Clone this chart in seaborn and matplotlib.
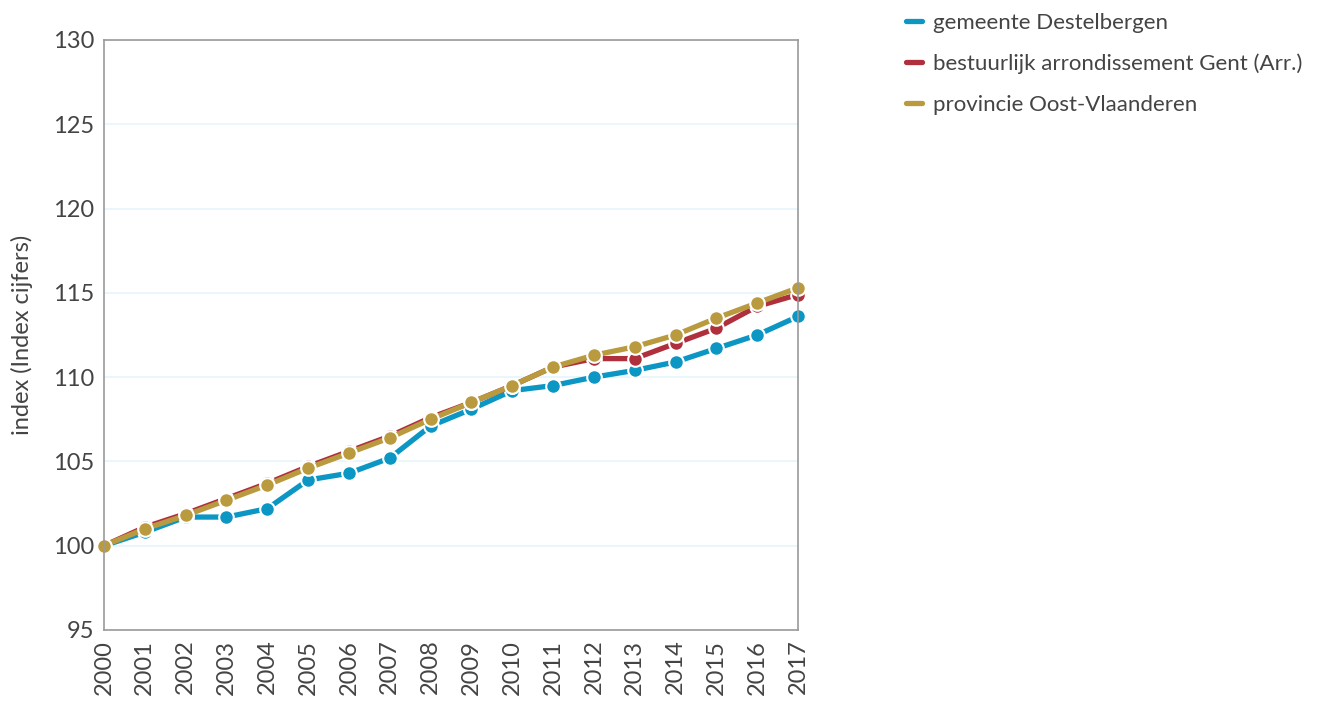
import pandas as pd
import matplotlib
matplotlib.use("Agg")
import matplotlib.pyplot as plt
import seaborn as sns

# data
years = list(range(2000, 2018))
destelbergen = [100.0, 100.8, 101.7, 101.7, 102.2, 103.9, 104.3, 105.2, 107.1, 108.1,
                109.2, 109.5, 110.0, 110.4, 110.9, 111.7, 112.5, 113.6]
arr_gent = [100.0, 101.1, 101.9, 102.8, 103.7, 104.7, 105.6, 106.5, 107.6, 108.5,
            109.5, 110.6, 111.1, 111.1, 112.0, 112.9, 114.2, 114.9]
oost_vl = [100.0, 101.0, 101.8, 102.7, 103.6, 104.6, 105.5, 106.4, 107.5, 108.5,
           109.5, 110.6, 111.3, 111.8, 112.5, 113.5, 114.4, 115.3]
series_names = ["gemeente Destelbergen",
                "bestuurlijk arrondissement Gent (Arr.)",
                "provincie Oost-Vlaanderen"]
colors = ["#0b96c4", "#b02f3d", "#b99a3e"]

df = pd.DataFrame({
    "jaar": years * 3,
    "waarde": destelbergen + arr_gent + oost_vl,
    "reeks": [series_names[0]] * 18 + [series_names[1]] * 18 + [series_names[2]] * 18,
})

sns.set_style("white")
plt.rcParams['font.family'] = ['Lato', 'DejaVu Sans']
text_col = "#444444"

fig = plt.figure(figsize=(13.29, 7.02), dpi=100)
ax = fig.add_axes([104 / 1329, 1 - 630 / 702, (798 - 104) / 1329, 590 / 702])

sns.lineplot(data=df, x="jaar", y="waarde", hue="reeks", hue_order=series_names,
             palette=colors, lw=3.8, marker="o", markersize=10.5,
             markeredgecolor="white", markeredgewidth=1.5, ax=ax, legend=False)

ax.set_xlim(2000, 2017)
ax.set_ylim(95, 130)
ax.set_yticks(range(95, 131, 5))
ax.set_xticks(years)
ax.set_xticklabels([str(y) for y in years], rotation=90)
ax.grid(axis="y", color="#e5f5fb", lw=1.2)
ax.grid(axis="x", visible=False)
for s in ax.spines.values():
    s.set_color("#999999")
    s.set_linewidth(1.2)
ax.tick_params(axis="both", length=0, labelsize=17, colors=text_col, pad=7)
ax.set_xlabel("")
ax.set_ylabel("index (Index cijfers)", fontsize=17, color=text_col, labelpad=14)
for line in ax.lines:
    line.set_clip_on(False)

handles = [plt.Line2D([0], [0], color=c, lw=3.8) for c in colors]
fig.legend(handles, series_names, loc="upper left", bbox_to_anchor=(886 / 1329, 1.01),
           frameon=False, fontsize=16, handlelength=0.7, handletextpad=0.5,
           labelspacing=0.93, labelcolor=text_col)

fig.savefig("out.png", dpi=100)
